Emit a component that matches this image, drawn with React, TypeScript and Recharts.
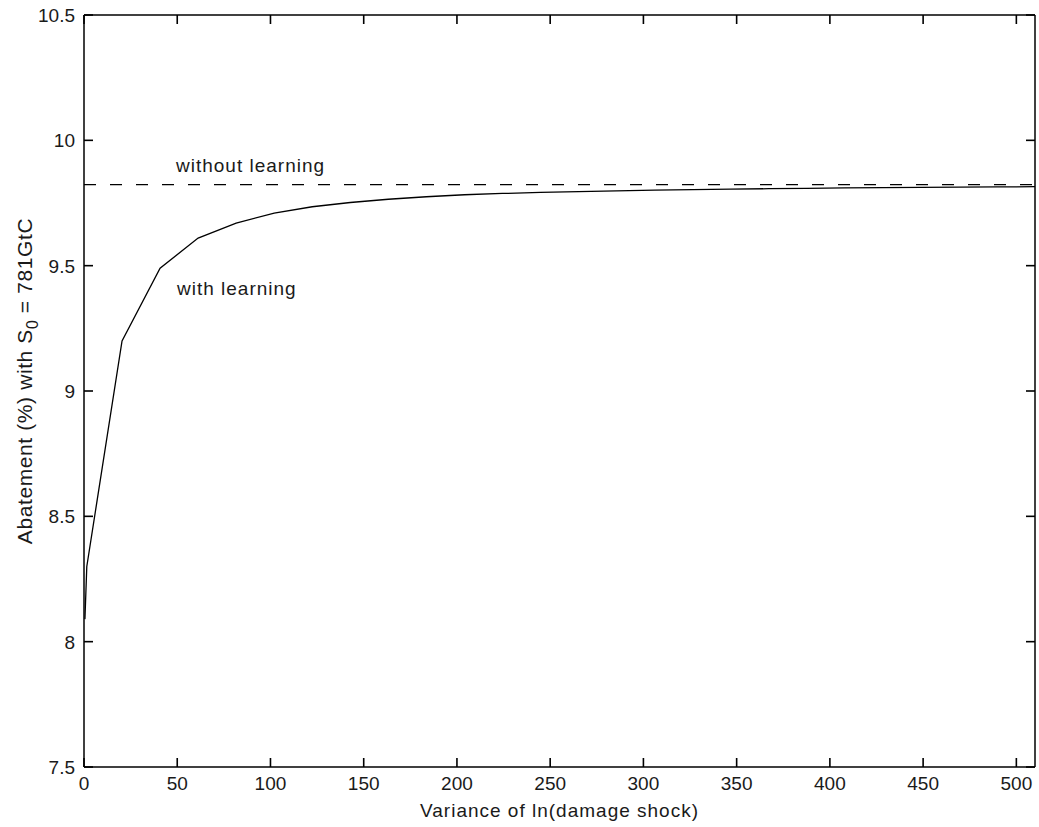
import React from 'react';
import { LineChart, Line, XAxis, YAxis, ReferenceLine } from 'recharts';

const variance = [0.5, 1.5, 20.4, 40.8, 61.2, 81.6, 102, 122.4, 142.8, 163.2, 183.6, 204, 224.4, 244.8, 265.2, 285.6, 306, 326.4, 346.8, 367.2, 387.6, 408, 428.4, 448.8, 469.2, 489.6, 510];
const withLearning = [8.09, 8.30, 9.20, 9.49, 9.61, 9.67, 9.71, 9.735, 9.752, 9.765, 9.775, 9.783, 9.788, 9.792, 9.795, 9.798, 9.801, 9.803, 9.805, 9.807, 9.808, 9.810, 9.811, 9.812, 9.813, 9.814, 9.815];
const withoutLearning = 9.823;
const xTicks = [0, 50, 100, 150, 200, 250, 300, 350, 400, 450, 500];
const yTicks = [7.5, 8, 8.5, 9, 9.5, 10, 10.5];

const data = variance.map((x, i) => ({ x, y: withLearning[i] }));

const W = 1039;
const H = 827;
const FONT = '"Liberation Sans", Arial, Helvetica, sans-serif';
const INK = '#1a1a1a';
const TICK_LEN = 9;
const TICK_W = 1.6;

// MATLAB-style ticks: short marks pointing into the plot, label outside
const BottomTick = (props: any) => {
  const { x, y, payload } = props;
  return (
    <g>
      <rect x={x - TICK_W / 2} y={y - TICK_LEN} width={TICK_W} height={TICK_LEN} fill="#000" />
      <text x={x} y={y + 23} textAnchor="middle" fontSize={19} fontFamily={FONT} fill={INK}>
        {payload.value}
      </text>
    </g>
  );
};

const LeftTick = (props: any) => {
  const { x, y, payload } = props;
  return (
    <g>
      <rect x={x} y={y - TICK_W / 2} width={TICK_LEN} height={TICK_W} fill="#000" />
      <text x={x - 9} y={y + 7} textAnchor="end" fontSize={19} fontFamily={FONT} fill={INK}>
        {payload.value}
      </text>
    </g>
  );
};

const TopTick = (props: any) => {
  const { x, y } = props;
  return <rect x={x - TICK_W / 2} y={y} width={TICK_W} height={TICK_LEN} fill="#000" />;
};

const RightTick = (props: any) => {
  const { x, y } = props;
  return <rect x={x - TICK_LEN} y={y - TICK_W / 2} width={TICK_LEN} height={TICK_W} fill="#000" />;
};

const frame = { stroke: '#000', strokeWidth: 1.5 };

// titles and in-plot notes drawn on a transparent layer above the chart
function Annotations() {
  const text = { fontFamily: FONT, fill: INK, fontSize: 19, letterSpacing: 1 };
  return (
    <svg
      width={W}
      height={H}
      style={{ position: 'absolute', left: 0, top: 0, pointerEvents: 'none' }}
    >
      <text x={176} y={172} {...text}>without learning</text>
      <text x={177} y={295} {...text}>with learning</text>
      <text x={559.5} y={817} textAnchor="middle" {...text}>Variance of ln(damage shock)</text>
      <text
        x={32}
        y={381}
        transform="rotate(-90 32 381)"
        textAnchor="middle"
        fontFamily={FONT}
        fill={INK}
        fontSize={21}
        letterSpacing={0.6}
      >
        Abatement (%) with S
        <tspan fontSize={16} dy={6}>0</tspan>
        <tspan dy={-6}> = 781GtC</tspan>
      </text>
    </svg>
  );
}

export default function App() {
  return (
    <div style={{ position: 'absolute', left: 0, top: 0, width: W, height: H, background: '#fff' }}>
      <LineChart
        width={W}
        height={H}
        data={data}
        margin={{ top: 15, right: 4, bottom: 0, left: 0 }}
      >
        <XAxis
          dataKey="x"
          type="number"
          domain={[0, 510]}
          ticks={xTicks}
          allowDataOverflow
          height={60}
          tickSize={0}
          tickMargin={0}
          tickLine={false}
          tick={<BottomTick />}
          axisLine={frame}
        />
        <XAxis
          xAxisId="top"
          dataKey="x"
          orientation="top"
          type="number"
          domain={[0, 510]}
          ticks={xTicks}
          allowDataOverflow
          mirror
          tickSize={0}
          tickMargin={0}
          tickLine={false}
          tick={<TopTick />}
          axisLine={frame}
        />
        <YAxis
          type="number"
          domain={[7.5, 10.5]}
          ticks={yTicks}
          allowDataOverflow
          width={84}
          tickSize={0}
          tickMargin={0}
          tickLine={false}
          tick={<LeftTick />}
          axisLine={frame}
        />
        <YAxis
          yAxisId="right"
          orientation="right"
          type="number"
          domain={[7.5, 10.5]}
          ticks={yTicks}
          allowDataOverflow
          mirror
          tickSize={0}
          tickMargin={0}
          tickLine={false}
          tick={<RightTick />}
          axisLine={frame}
        />
        <ReferenceLine
          y={withoutLearning}
          stroke="#000"
          strokeWidth={1.2}
          strokeDasharray="12 14"
        />
        <Line
          type="linear"
          dataKey="y"
          stroke="#000"
          strokeWidth={1.3}
          dot={false}
          isAnimationActive={false}
        />
      </LineChart>
      <Annotations />
    </div>
  );
}
